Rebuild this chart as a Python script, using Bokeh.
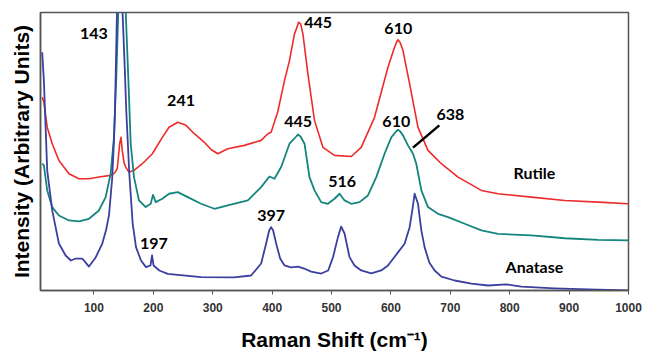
from bokeh.plotting import figure
from bokeh.models import FixedTicker, Range1d, ColumnDataSource
from bokeh.core.properties import value
from bokeh.embed import file_html
from bokeh.resources import INLINE

# ---------------- data ----------------
anatase_x = [12.9, 15.7, 21.3, 29.7, 41, 52.3, 61.2, 69.2, 80.3, 84.8, 91.6, 102.9, 114, 120.2, 125.3,
             130.8, 133.7, 135.4, 137.1, 138.8, 141.3, 143, 145.5, 148, 151.4, 154.4, 159.5, 165.2,
             170.8, 179.2, 187.6, 195.2, 197.8, 200.3, 210.1, 224.2, 280.3, 336, 364.6, 381.5, 389.9,
             395, 398.3, 401.7, 406.8, 413.5, 420.8, 432, 443.8, 454, 465.7, 482.6, 494.4, 502.8,
             510.8, 516.3, 521.9, 530.3, 538.7, 550, 566.9, 583.7, 595, 611.9, 623, 631.4, 636,
             639.9, 645.6, 651.2, 656.7, 664.6, 673.6, 684.9, 707.3, 735.4, 763.6, 794.4, 819.7,
             875.3, 932.1, 999.5]
anatase_y = [85.7, 75.5, 43.2, 28.8, 16.9, 12.6, 10.8, 11.5, 11.5, 10.4, 8.6, 11.9, 16.9, 21.6, 27,
             40.6, 54, 64.7, 82.7, 100.7, 118.7, 126, 111, 100.7, 82.7, 64.7, 42.1, 24.1,
             15.6, 10.8, 8.4, 9, 12.6, 9, 7.2, 6, 4.8, 4.7, 5.4, 9.7, 16.9,
             21.6, 22.8, 21.6, 16.9, 11.5, 9, 8.3, 8.6, 7.9, 6.8, 6.1, 7.2, 12.2,
             19.2, 23, 20.5, 12, 9, 7.2, 6.2, 7.2, 9, 13.7, 16.8, 22.7, 28.8,
             34.8, 31.2, 21.6, 15.6, 10.1, 7.2, 5, 3.6, 2.5, 1.8, 2.2, 1.4,
             0.8, 0.4, 0]

mixed_x = [12.9, 15.7, 21.3, 29.7, 41, 57.9, 74.7, 91.6, 108.4, 119.7, 128.1, 133.7, 137.6, 141,
           143.8, 147.2, 150.6, 153.4, 157.8, 161.9, 167.4, 175.8, 187.1, 195.6, 199.4, 204, 215.1,
           226.4, 241.1, 257.9, 280.3, 302.8, 325.3, 359.1, 381.5, 395.5, 403.9, 415.2, 429.2,
           440.5, 443.3, 447.8, 454.5, 462.9, 471.3, 482.6, 493.9, 505, 513.5, 521.9, 533.2, 547.2,
           561.3, 575.3, 589.3, 600.6, 609, 611.9, 615.3, 620.3, 628.7, 637.2, 642.7, 651.2, 662.4,
           679.3, 696.2, 724.1, 752.3, 780.4, 836.6, 892.7, 949, 999.5]
mixed_y = [45.6, 45, 36, 30, 27, 25.2, 24.9, 25.8, 28.8, 33.6, 42, 55.1, 76.7, 100.7,
           118.7, 129.5, 115, 100.7, 76.7, 52.8, 40.8, 32.4, 30, 31.2, 34.4, 31.8, 33,
           34.8, 35.4, 33.6, 31.2, 29.4, 30.6, 32.4, 37.2, 41, 40.2, 44.4, 52.8,
           55.4, 56.1, 55.4, 52.8, 40.8, 36, 31.8, 31.2, 33, 34.8, 32.4, 31.2, 31.8,
           34.2, 40.8, 49.2, 55.1, 57.3, 57.8, 57.3, 55.8, 52.2, 49.2, 45.6, 36, 30,
           27.6, 26.4, 24, 21.6, 20.4, 19.8, 18.8, 18.2, 18]

rutile_x = [12.9, 15.7, 21.3, 29.7, 41, 57.9, 74.7, 91.6, 108.4, 128.1, 135.4, 139.3, 143.3, 145.5,
            147.7, 150.6, 153.4, 159, 167.4, 181.4, 198.3, 215.1, 226.4, 241.1, 255, 269, 285.9,
            297.2, 308.5, 325.3, 353.3, 381.5, 392.8, 398.3, 409.6, 420.8, 429.2, 437.6, 442.7,
            444.4, 448, 451.8, 460.2, 471.3, 485.5, 505, 533.2, 550, 572.4, 595, 606.1, 609.5,
            611.9, 615.3, 620.3, 631.4, 645.6, 662.4, 684.9, 713, 752.3, 780.4, 836.6, 892.7,
            949, 999.5]
rutile_y = [69.5, 67.7, 58.7, 52.8, 46.8, 42, 40.2, 40.2, 40.8, 41.4, 42.4, 43.9, 52.8, 55.1,
            50.4, 46, 44.4, 42.6, 43.2, 45.6, 49.2, 55.1, 58.7, 60.5, 59.4, 56.4, 53.3,
            50.7, 49.2, 51, 52.2, 54, 56.4, 56.9, 64.4, 75.5, 82.7, 92.3, 95.2,
            96.5, 95.9, 92.3, 77.9, 61.2, 51.5, 48.6, 48.2, 51.5, 62.3, 80.3, 87.5, 89.3,
            90.2, 89.3, 86.3, 74.4, 58.7, 50.4, 45.6, 40.8, 36, 34.8, 33.6, 32.4,
            31.8, 31.2]

peak_labels = ["143", "241", "445", "610", "445", "610", "638", "516", "197", "397"]
peak_label_x = [100, 246.6, 477.5, 612.4, 443.8, 609, 700, 518, 201, 398.3]
peak_label_y = [92.4, 68.3, 96.4, 94.2, 60.8, 60.8, 63.3, 39.2, 16.9, 27]

series_names = ["Rutile", "Anatase"]
series_label_x = [841.6, 841.6]
series_label_y = [42.4, 8.6]

leader_x = [681.5, 637.2]
leader_y = [59.4, 51.4]

x_ticks = [100, 200, 300, 400, 500, 600, 700, 800, 900, 1000]

# ---------------- figure ----------------
p = figure(width=645, height=356, output_backend="svg", toolbar_location=None,
           x_range=Range1d(10, 1000), y_range=Range1d(0, 100),
           min_border_left=40, min_border_right=17, min_border_top=12, min_border_bottom=66)
p.background_fill_color = "white"
p.border_fill_color = "white"
p.outline_line_color = "#555555"
p.outline_line_width = 1.5
p.grid.visible = False

p.line(rutile_x, rutile_y, line_color="#ee2b2b", line_width=1.6, line_join="round")
p.line(mixed_x, mixed_y, line_color="#14857e", line_width=1.8, line_join="round")
p.line(anatase_x, anatase_y, line_color="#3b3f9f", line_width=1.8, line_join="round")

p.line(leader_x, leader_y, line_color="black", line_width=2.5)

src = ColumnDataSource(dict(x=peak_label_x, y=peak_label_y, t=peak_labels))
p.text(x="x", y="y", text="t", source=src, text_font=value("Lato"), text_font_style="bold",
       text_font_size="16px", text_align="center", text_baseline="middle", text_color="black")
src2 = ColumnDataSource(dict(x=series_label_x, y=series_label_y, t=series_names))
p.text(x="x", y="y", text="t", source=src2, text_font=value("Lato"), text_font_style="bold",
       text_font_size="16px", text_align="center", text_baseline="middle", text_color="black")

# x axis
xa = p.xaxis[0]
xa.ticker = FixedTicker(ticks=x_ticks)
xa.minor_tick_line_color = None
xa.major_tick_in = 0
xa.major_tick_out = 4
xa.major_tick_line_color = "#555555"
xa.axis_line_color = "#555555"
xa.axis_line_width = 1.5
xa.major_label_text_font = "Liberation Sans"
xa.major_label_text_font_style = "bold"
xa.major_label_text_font_size = "12px"
xa.major_label_text_color = "#333333"
xa.major_label_standoff = 8
xa.axis_label = "Raman Shift (cm\u207b\u00b9)"
xa.axis_label_text_font = "Liberation Sans"
xa.axis_label_text_font_style = "bold"
xa.axis_label_text_font_size = "21px"
xa.axis_label_text_color = "black"
xa.axis_label_standoff = 13

# y axis
ya = p.yaxis[0]
ya.ticker = FixedTicker(ticks=[])
ya.minor_tick_line_color = None
ya.major_tick_line_color = None
ya.major_tick_in = 0
ya.major_tick_out = 0
ya.major_label_text_font_size = "0px"
ya.major_label_standoff = 0
ya.axis_line_color = "#555555"
ya.axis_line_width = 1.5
ya.axis_label = "Intensity (Arbitrary Units)"
ya.axis_label_text_font = "Liberation Sans"
ya.axis_label_text_font_style = "bold"
ya.axis_label_text_font_size = "21px"
ya.axis_label_text_color = "black"
ya.axis_label_standoff = 8

open("out.html", "w").write(file_html(p, INLINE))
